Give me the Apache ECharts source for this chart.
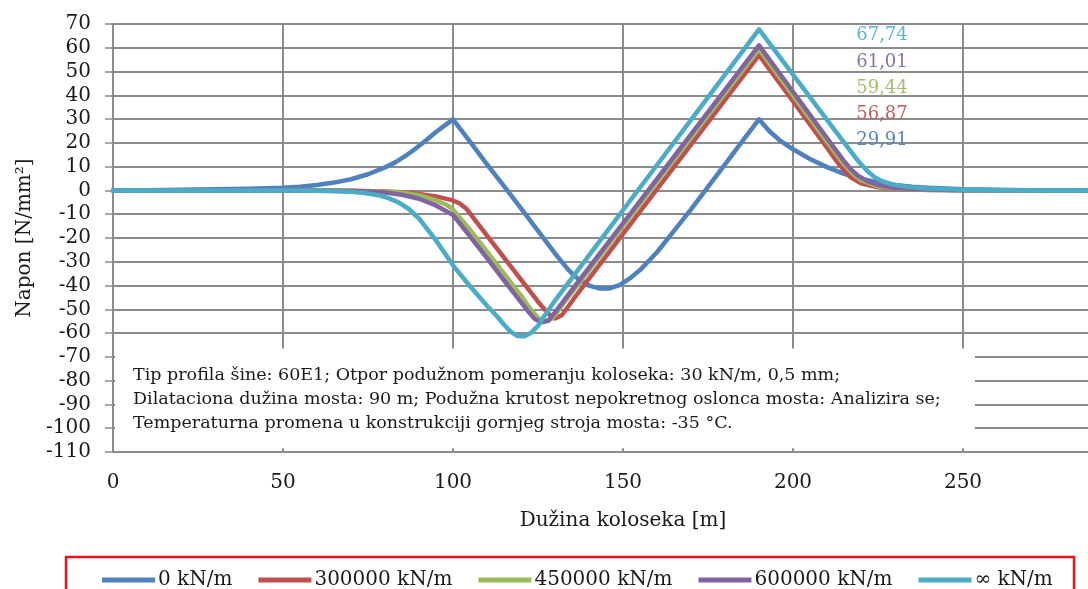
<!DOCTYPE html>
<html>
<head>
<meta charset="utf-8">
<script src="https://cdn.jsdelivr.net/npm/echarts@6/dist/echarts.min.js"></script>
<style>
html,body{margin:0;padding:0;background:#fff;}
#chart{width:1088px;height:589px;}
</style>
</head>
<body>
<div id="chart"></div>
<script>
// ---- Data ----
const seriesNames = ['0 kN/m', '300000 kN/m', '450000 kN/m', '600000 kN/m', '\u221E kN/m'];
const peakX = 190;
const peakValues = [29.91, 56.87, 59.44, 61.01, 67.74];

const s0 = [[0,0],[10,0.1],[20,0.25],[30,0.45],[40,0.7],[50,1.1],[55,1.6],[60,2.3],[65,3.3],[70,4.7],[75,6.8],[80,9.7],[83,11.8],[86,14.5],[89,17.6],[92,21],[95,24.6],[98,27.8],[100,29.91],[105,20.5],[110,11],[115,1.8],[120,-7.5],[125,-17],[130,-26.5],[134,-33.5],[137,-37.5],[140,-40],[143,-41.2],[146,-41.2],[149,-39.8],[152,-37],[155,-33.5],[160,-26],[165,-17],[170,-8],[175,1.5],[180,11],[185,20.5],[190,29.91],[193,25],[196,21.2],[200,17.3],[205,13.2],[210,9.8],[215,7],[220,4.9],[225,3.4],[230,2.3],[235,1.6],[240,1.1],[250,0.5],[260,0.25],[270,0.1],[287,0]];

const s1 = [[0,0],[50,0],[70,-0.1],[80,-0.4],[85,-0.8],[90,-1.5],[95,-2.5],[100,-4.2],[102,-5.5],[104,-7.8],[106,-11.5],[110,-19],[115,-28.3],[120,-37.5],[125,-46.8],[128,-51.8],[130,-53.8],[132,-52.5],[134,-48.6],[136,-44.6],[140,-37.1],[150,-18.3],[160,0.5],[170,19.3],[180,38.1],[190,56.87],[200,37.5],[210,18],[213,12],[215,8.5],[217,5.5],[220,3],[225,1.3],[230,0.6],[240,0.2],[250,0.1],[287,0]];

const s2 = [[0,0],[50,0],[70,-0.1],[80,-0.5],[85,-1],[90,-2],[95,-4.2],[98,-6],[100,-8],[105,-16.5],[110,-25.7],[115,-35],[120,-44.2],[123,-50.3],[125,-53.5],[127,-55],[129,-54],[131,-50.5],[133,-46.6],[135,-42.9],[140,-33.6],[150,-15],[160,3.6],[170,22.2],[180,40.8],[190,59.44],[200,40],[210,20.5],[214,12.7],[216,9.5],[218,6.5],[220,4.3],[225,1.7],[230,0.8],[240,0.3],[250,0.1],[287,0]];

const s3 = [[0,0],[50,0],[65,-0.1],[75,-0.4],[80,-0.9],[85,-1.8],[90,-3.5],[95,-6.3],[100,-10.3],[105,-19.3],[110,-28.5],[115,-37.8],[120,-47],[122,-50.7],[124,-54],[126,-55.5],[128,-54.8],[130,-51.3],[132,-47.5],[135,-41.8],[140,-32.5],[150,-13.8],[160,4.9],[170,23.6],[180,42.3],[190,61.01],[200,41.5],[210,22],[215,12.3],[217,9],[219,6.3],[222,3.8],[225,2.3],[230,1],[240,0.4],[250,0.1],[287,0]];

const s4 = [[0,0],[50,0],[60,-0.1],[65,-0.3],[70,-0.6],[74,-1.1],[78,-2],[81,-3.2],[84,-5],[87,-7.8],[90,-11.8],[95,-21],[100,-31.5],[105,-40.3],[110,-48.5],[113,-53],[115,-56.5],[117,-59.5],[119,-61.2],[121,-61.3],[123,-59.8],[125,-57],[127,-52.5],[130,-46.3],[140,-27.3],[150,-8.3],[160,10.7],[170,29.7],[180,48.7],[190,67.74],[200,48.7],[210,29.7],[215,20.2],[218,14.5],[220,11],[222,8],[224,5.6],[226,4],[229,2.6],[233,1.6],[240,0.8],[250,0.3],[260,0.1],[287,0]];

const allData = [s0, s1, s2, s3, s4];

const xTicks = { min: 0, max: 300, interval: 50 };
const yTicks = { min: -110, max: 70, interval: 10 };

const annotationLines = [
  'Tip profila šine: 60E1; Otpor podužnom pomeranju koloseka: 30 kN/m, 0,5 mm;',
  'Dilataciona dužina mosta: 90 m; Podužna krutost nepokretnog oslonca mosta: Analizira se;',
  'Temperaturna promena u konstrukciji gornjeg stroja mosta: -35 °C.'
];
const annotationArea = [[0.6, -66.5], [253.5, -108.4]];

// ---- Styles ----
const colors = ['#4F81BD', '#C0504D', '#9BBB59', '#8064A2', '#4BACC6'];
const labelColors = ['#5b83be', '#c0605d', '#a3bf6b', '#8a73a8', '#5fb3cc'];
const labelOffsets = [[123, 21], [123, 59], [123, 39], [123, 17], [123, 6]];
const FONT = '"DejaVu Serif", serif';
const gridColor = '#8c8c8c';

const chart = echarts.init(document.getElementById('chart'), null, { renderer: 'canvas' });

const series = allData.map((d, i) => {
  const s = {
    name: seriesNames[i],
    type: 'line',
    data: d,
    showSymbol: false,
    symbol: 'none',
    smooth: false,
    lineStyle: { width: 4.5, color: colors[i], join: 'round', cap: 'round' },
    itemStyle: { color: colors[i] },
    z: 3 + i,
    animation: false,
    markPoint: {
      silent: true,
      symbol: 'circle',
      symbolSize: 1,
      itemStyle: { color: 'rgba(0,0,0,0)' },
      data: [{ coord: [peakX, peakValues[i]], value: peakValues[i] }],
      label: {
        show: true,
        position: 'inside',
        offset: labelOffsets[i],
        formatter: p => String(p.value.toFixed(2)).replace('.', ','),
        color: labelColors[i],
        fontFamily: FONT,
        fontSize: 18
      }
    }
  };
  if (i === 0) {
    s.markArea = {
      silent: true,
      itemStyle: { color: '#ffffff', opacity: 1 },
      data: [[{ coord: annotationArea[0] }, { coord: annotationArea[1] }]]
    };
  }
  return s;
});

chart.setOption({
  animation: false,
  backgroundColor: '#ffffff',
  grid: {
    left: 113, top: 24, bottom: 137, right: -45,
    containLabel: false,
    outerBoundsMode: 'none'
  },
  xAxis: {
    type: 'value',
    min: xTicks.min, max: xTicks.max, interval: xTicks.interval,
    name: 'Dužina koloseka [m]',
    nameLocation: 'middle',
    nameGap: 59,
    nameTextStyle: { fontFamily: FONT, fontSize: 20, color: '#1a1a1a' },
    axisLine: { show: true, onZero: false, lineStyle: { color: gridColor, width: 2 } },
    axisTick: { show: true, inside: true, length: 4, lineStyle: { color: gridColor, width: 1.5 } },
    axisLabel: { fontFamily: FONT, fontSize: 20, color: '#1a1a1a', margin: 21 },
    splitLine: { show: true, lineStyle: { color: gridColor, width: 2 } }
  },
  yAxis: {
    type: 'value',
    min: yTicks.min, max: yTicks.max, interval: yTicks.interval,
    name: 'Napon [N/mm²]',
    nameLocation: 'middle',
    nameGap: 78,
    nameRotate: 90,
    nameTextStyle: { fontFamily: FONT, fontSize: 20, color: '#1a1a1a' },
    axisLine: { show: true, lineStyle: { color: gridColor, width: 2 } },
    axisTick: { show: true, inside: false, length: 8, lineStyle: { color: gridColor, width: 1.5 } },
    axisLabel: { fontFamily: FONT, fontSize: 20, color: '#1a1a1a', margin: 22 },
    splitLine: { show: true, lineStyle: { color: gridColor, width: 2 } }
  },
  legend: {
    data: seriesNames,
    left: 97,
    top: 565,
    icon: 'rect',
    itemWidth: 53,
    itemHeight: 5,
    itemGap: 26,
    textStyle: { fontFamily: FONT, fontSize: 20, color: '#1a1a1a', padding: [0, 0, 0, -2] }
  },
  graphic: [
    {
      type: 'text',
      left: 133,
      top: 363,
      silent: true,
      z: 100,
      style: {
        text: annotationLines.join('\n'),
        font: '17.5px "DejaVu Serif"',
        lineHeight: 24,
        fill: '#1a1a1a'
      }
    },
    {
      type: 'rect',
      silent: true,
      z: 100,
      shape: { x: 66, y: 557, width: 1008, height: 50 },
      style: { fill: 'none', stroke: '#e8141b', lineWidth: 2.5 }
    }
  ],
  series: series
});
</script>
</body>
</html>
